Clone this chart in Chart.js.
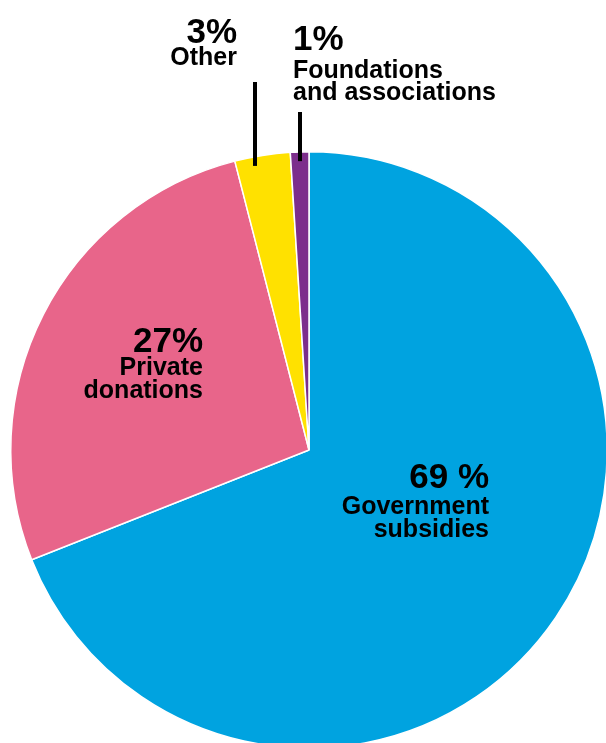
<!DOCTYPE html>
<html>
<head>
<meta charset="utf-8">
<script src="https://cdn.jsdelivr.net/npm/chart.js@4"></script>
<style>
  html, body { margin: 0; padding: 0; background: #fff; overflow: hidden; width: 606px; height: 743px; }
  #wrap { position: absolute; left: 0; top: 0; width: 618px; height: 900px; }
</style>
</head>
<body>
<div id="wrap"><canvas id="pie" width="618" height="900"></canvas></div>
<script>
const categories = ['Government subsidies', 'Private donations', 'Other', 'Foundations and associations'];
const shares = [69, 27, 3, 1];
const valueLabels = ['69 %', '27%', '3%', '1%'];
const nameLines = [['Government', 'subsidies'], ['Private', 'donations'], ['Other'], ['Foundations', 'and associations']];
const colors = ['#00A3E0', '#E8658A', '#FFE100', '#7C2E8C'];

// x, baseline of the big number, baselines of the name lines, alignment, leader line
const labelLayout = [
  { x: 489, y: 488, names: [514, 537], align: 'right' },
  { x: 203, y: 352, names: [375, 398], align: 'right' },
  { x: 237, y: 43, names: [65], align: 'right', line: { x: 255, y1: 82 } },
  { x: 293, y: 50, names: [78, 100], align: 'left', line: { x: 300, y1: 112 } }
];

const labelPlugin = {
  id: 'sliceLabels',
  afterDraw(chart) {
    const ctx = chart.ctx;
    const area = chart.chartArea;
    const cx = (area.left + area.right) / 2;
    const cy = (area.top + area.bottom) / 2;
    const r = Math.min(area.right - area.left, area.bottom - area.top) / 2;
    ctx.save();
    ctx.fillStyle = '#000';
    labelLayout.forEach((l, i) => {
      if (l.line) {
        // leader line runs down into the slice edge
        const lx = l.line.x;
        const dx = lx - cx;
        const y2 = cy - Math.sqrt(r * r - dx * dx) + 10;
        ctx.fillRect(lx - 2, l.line.y1, 4, y2 - l.line.y1);
      }
      ctx.textAlign = l.align;
      ctx.textBaseline = 'alphabetic';
      ctx.font = 'bold 35px "Liberation Sans", Arial, sans-serif';
      ctx.fillText(valueLabels[i], l.x, l.y);
      ctx.font = 'bold 25px "Liberation Sans", Arial, sans-serif';
      nameLines[i].forEach((t, j) => ctx.fillText(t, l.x, l.names[j]));
    });
    ctx.restore();
  }
};

new Chart(document.getElementById('pie').getContext('2d'), {
  type: 'pie',
  data: {
    labels: categories,
    datasets: [{
      data: shares,
      backgroundColor: colors,
      borderColor: '#fff',
      borderWidth: 1.5
    }]
  },
  options: {
    responsive: false,
    animation: false,
    layout: { padding: { top: 151, bottom: 151, left: 10, right: 10 } },
    plugins: {
      legend: { display: false },
      tooltip: { enabled: false }
    }
  },
  plugins: [labelPlugin]
});
</script>
</body>
</html>
